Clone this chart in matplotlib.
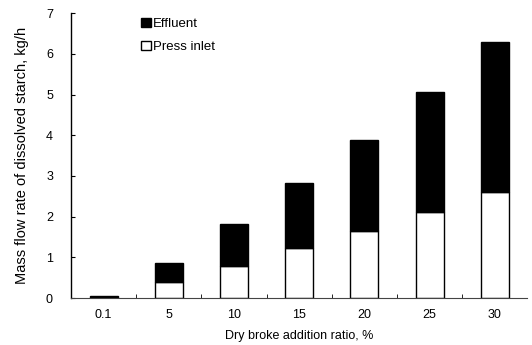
import numpy as np
import matplotlib
matplotlib.use("Agg")
import matplotlib.pyplot as plt

plt.rcParams['font.family'] = ['Liberation Sans', 'DejaVu Sans']

# Data
ratios = ['0.1', '5', '10', '15', '20', '25', '30']
press_inlet = [0.01, 0.39, 0.79, 1.23, 1.65, 2.12, 2.61]
total = [0.04, 0.86, 1.82, 2.83, 3.89, 5.05, 6.30]
effluent = [t - p for t, p in zip(total, press_inlet)]

fig = plt.figure(figsize=(5.32, 3.45), dpi=100)
ax = fig.add_axes([0.1335, 0.136, 0.858, 0.826])

x = np.arange(len(ratios))
w = 0.43
ax.bar(x, press_inlet, w, color='white', edgecolor='black', linewidth=1.0, label='Press inlet')
ax.bar(x, effluent, w, bottom=press_inlet, color='black', edgecolor='black', linewidth=1.0, label='Effluent')

ax.set_xlim(-0.5, len(ratios) - 0.5)
ax.set_ylim(0, 7)
ax.set_yticks(range(0, 8))
ax.set_xticks(x)
ax.set_xticklabels(ratios)
ax.tick_params(axis='x', length=0, pad=8, labelsize=9)
ax.tick_params(axis='y', length=3, direction='in', labelsize=9, pad=13)
ax.set_xticks(np.arange(0.5, len(ratios) - 0.5), minor=True)
ax.tick_params(axis='x', which='minor', length=3, direction='in')

for s in ['top', 'right']:
    ax.spines[s].set_visible(False)
ax.spines['left'].set_linewidth(1.0)
ax.spines['bottom'].set_linewidth(0.8)
ax.spines['bottom'].set_color('#444444')

ax.set_xlabel('Dry broke addition ratio, %', fontsize=9, labelpad=6)
ax.set_ylabel('Mass flow rate of dissolved starch, kg/h', fontsize=10.5, labelpad=12)

handles, labels = ax.get_legend_handles_labels()
ax.legend(handles[::-1], labels[::-1], loc='upper left', bbox_to_anchor=(0.128, 1.025),
          frameon=False, fontsize=9.5, handlelength=0.7, handleheight=0.7,
          handletextpad=0.2, labelspacing=0.8)

plt.savefig('out.png', dpi=100)
